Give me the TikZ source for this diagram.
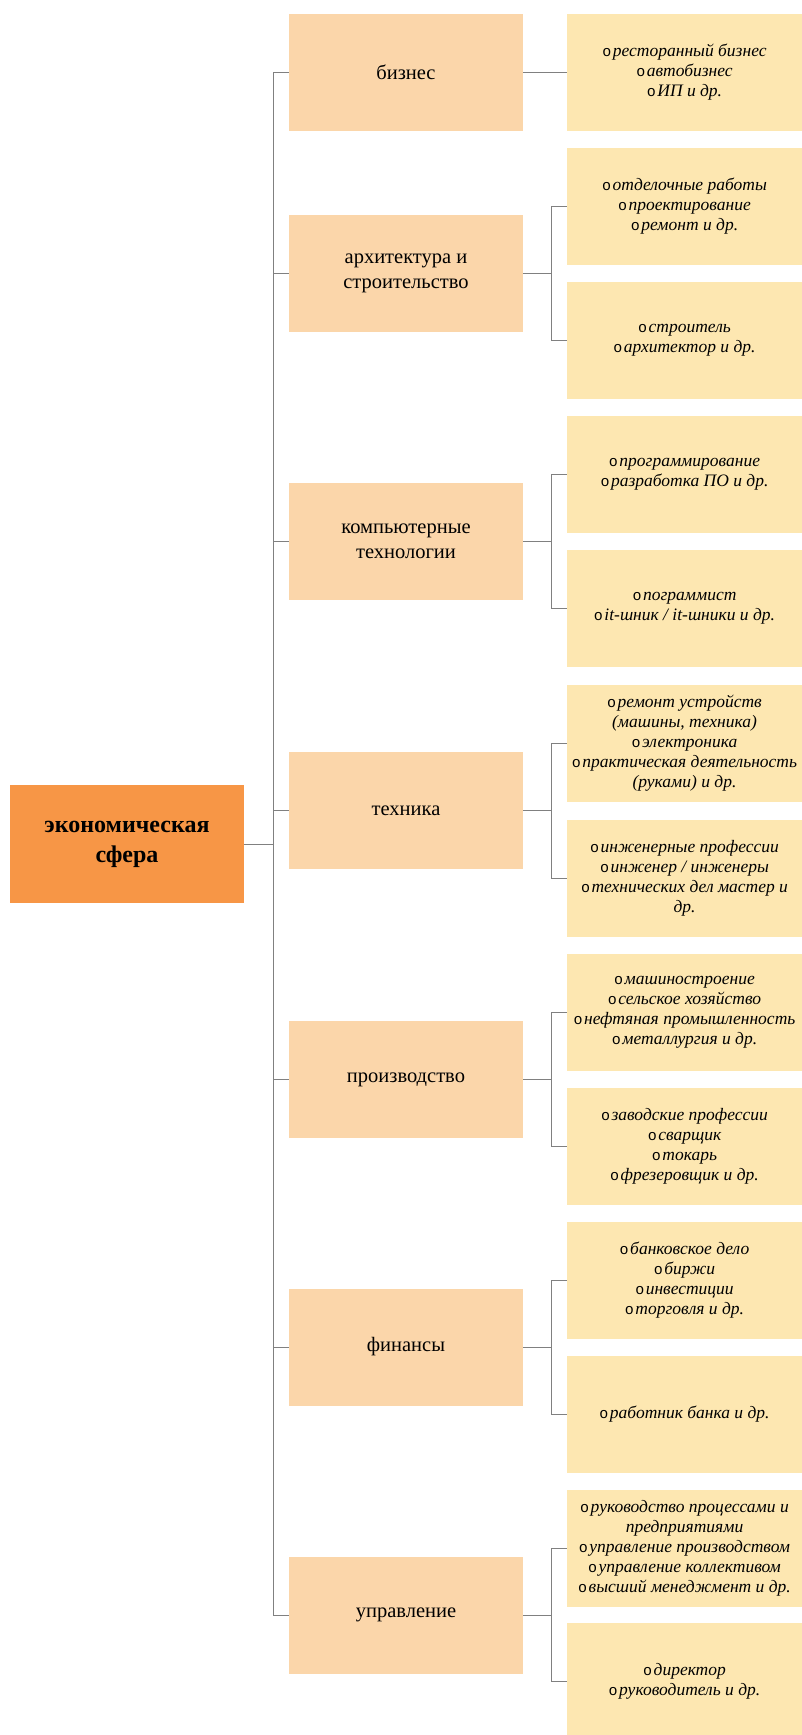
\documentclass[tikz,border=0pt]{standalone}
\usepackage{fontspec}
\setmainfont{Liberation Serif}
\newfontfamily\bulletfont{Liberation Mono}
\usepackage{tikz}
\definecolor{ESOrange}{HTML}{F79646}
\definecolor{ESPeach}{HTML}{FBD6AA}
\definecolor{ESCream}{HTML}{FDE7B1}
\definecolor{ESLine}{HTML}{808080}
\newcommand{\itm}{{\upshape\bulletfont\fontsize{15}{15}\selectfont o}\hspace{1.5pt}}

\tikzset{
  rootbox/.style={fill=ESOrange,minimum width=234pt,minimum height=118pt,align=center,
    font=\fontsize{24}{30}\selectfont\bfseries},
  areabox/.style={fill=ESPeach,minimum width=234pt,minimum height=117pt,align=center,
    font=\fontsize{20.5}{25}\selectfont},
  itembox/.style={fill=ESCream,minimum width=235pt,minimum height=117pt,align=center,
    inner sep=1pt,font=\fontsize{17.5}{20}\selectfont\itshape},
  link/.style={ESLine,line width=1pt}
}

\begin{document}
\begin{tikzpicture}[x=1pt,y=-1pt]
\path[use as bounding box] (0,0) rectangle (802,1735);

% root
\node[rootbox] (eco) at (127,844) {экономическая\\сфера};

% areas
\node[areabox] (biz) at (406,72) {бизнес};
\node[areabox] (arch) at (406,273.5) {архитектура и\\строительство};
\node[areabox] (comp) at (406,541.5) {компьютерные\\технологии};
\node[areabox] (tech) at (406,810.5) {техника};
\node[areabox] (prod) at (406,1079.5) {производство};
\node[areabox] (fin) at (406,1347) {финансы};
\node[areabox] (mgmt) at (406,1615) {управление};

% items
\node[itembox] (biz1) at (684.5,72) {\itm ресторанный бизнес\\\itm автобизнес\\\itm ИП и др.};
\node[itembox] (arch1) at (684.5,206.5) {\itm отделочные работы\\\itm проектирование\\\itm ремонт и др.};
\node[itembox] (arch2) at (684.5,340.5) {\itm строитель\\\itm архитектор и др.};
\node[itembox] (comp1) at (684.5,474.5) {\itm программирование\\\itm разработка ПО и др.};
\node[itembox] (comp2) at (684.5,608.5) {\itm пограммист\\\itm it-шник / it-шники и др.};
\node[itembox] (tech1) at (684.5,743.5) {\itm ремонт устройств\\ (машины, техника)\\\itm электроника\\\itm практическая деятельность\\(руками) и др.};
\node[itembox] (tech2) at (684.5,878) {\itm инженерные профессии\\\itm инженер / инженеры\\\itm технических дел мастер и\\др.};
\node[itembox] (prod1) at (684.5,1012) {\itm машиностроение\\\itm сельское хозяйство\\\itm нефтяная промышленность\\\itm металлургия и др.};
\node[itembox] (prod2) at (684.5,1146.5) {\itm заводские профессии\\\itm сварщик\\\itm токарь\\\itm фрезеровщик и др.};
\node[itembox] (fin1) at (684.5,1280.5) {\itm банковское дело\\\itm биржи\\\itm инвестиции\\\itm торговля и др.};
\node[itembox] (fin2) at (684.5,1414.5) {\itm работник банка и др.};
\node[itembox] (mgmt1) at (684.5,1548) {\itm руководство процессами и\\предприятиями\\\itm управление производством\\\itm управление коллективом\\\itm высший менеджмент и др.};
\node[itembox] (mgmt2) at (684.5,1681.5) {\itm директор\\\itm руководитель и др.};

% trunk
\coordinate (trunk) at (273,0);
\draw[link] (eco.east) -- (eco.east -| trunk);
\draw[link] (biz.west) -| (trunk |- mgmt.west) -- (mgmt.west);
\foreach \a in {arch,comp,tech,prod,fin}
  \draw[link] (\a.west) -- (\a.west -| trunk);

% branches
\draw[link] (biz.east) -- (biz1.west);
\foreach \a in {arch,comp,tech,prod,fin,mgmt}{
  \coordinate (\a fork) at ([xshift=28pt]\a.east);
  \draw[link] (\a.east) -- (\a fork);
  \draw[link] (\a 1.west) -| (\a fork |- \a 2.west) -- (\a 2.west);
}
\end{tikzpicture}
\end{document}
